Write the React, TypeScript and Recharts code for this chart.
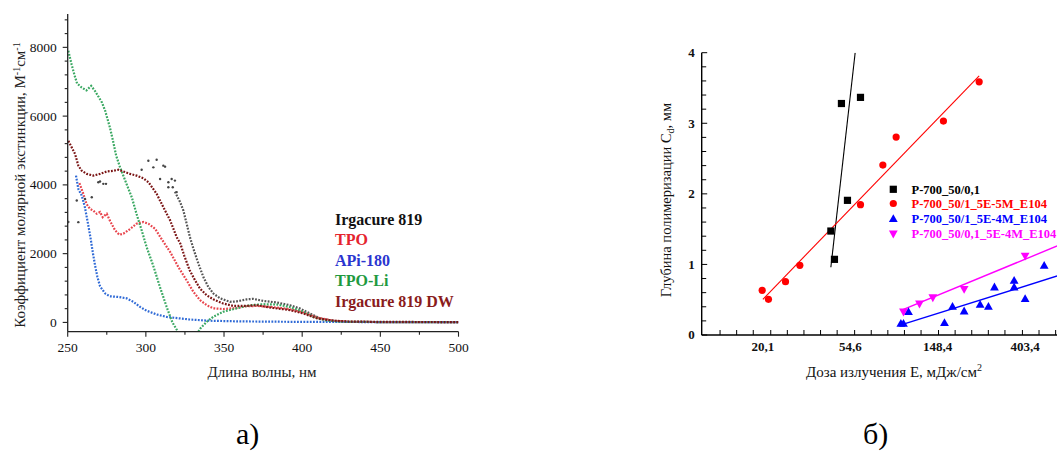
import React from 'react';
import { ComposedChart, Line, Scatter, XAxis, YAxis } from 'recharts';

type P = { x: number; y: number | null };
const pts = (a: (number | null)[][]): P[] => a.map(([x, y]) => ({ x: x as number, y }));

// ---------------- Panel а): molar extinction spectra ----------------
const irgacure819 = pts([
  [318.6, 3800], [321.9, 3500], [324, 3255], [326.1, 2870], [328.2, 2480], [330.4, 2145],
  [333.6, 1710], [336.8, 1320], [340, 1030], [343.2, 840], [347.5, 700], [353.8, 600],
  [358.1, 610], [364.5, 670], [368.7, 685], [375.1, 625], [383.7, 580], [392.2, 500],
  [398.6, 405], [405, 260], [411.4, 115], [420, 45], [430, 20], [450, 10], [500, 8],
]);
const irgacure819Noise = pts([
  [250.4, 2920], [255.8, 3545], [261.1, 3590], [265.4, 3640], [269.6, 4075], [270.7, 4100],
  [272.8, 4030], [274.5, 4030], [297.3, 4440], [301.6, 4700], [304.8, 4510], [306.9, 4730],
  [309.1, 4170], [311.2, 4560], [312.3, 4530], [314.4, 3930], [314.4, 4075], [316.5, 4170],
  [317.2, 3930], [318.6, 4125], [319.7, 3790], [256.8, 2916],
]);
const tpo = pts([
  [257.5, 4050], [260, 3740], [262, 3450], [264.3, 3300], [266.4, 3250], [268.6, 3160],
  [270.7, 3210], [272.4, 3060], [275, 3160], [277, 2960], [280.3, 2680], [283, 2550],
  [285.6, 2580], [290, 2720], [294, 2870], [298.4, 2920], [301.6, 2870], [306, 2720],
  [310, 2430], [315.5, 2050], [320.8, 1610], [326, 1230], [330.4, 890], [334.6, 650],
  [339, 500], [343, 410], [349.6, 390], [358, 420], [364.5, 470], [371, 480], [380, 450],
  [390, 400], [400, 300], [410, 140], [420, 50], [430, 20], [450, 10], [500, 5],
]);
const api180 = pts([
  [255.3, 4270], [256.8, 3880], [259, 3690], [261, 3350], [263.2, 2820], [264.7, 2430],
  [266, 2050], [267.5, 1660], [269, 1320], [270.7, 1050], [274, 840], [277, 760],
  [282.4, 740], [287.7, 700], [292, 600], [296.3, 450], [300.5, 340], [307, 230],
  [313.3, 160], [322, 115], [328, 85], [340, 50], [360, 30], [400, 15], [450, 10], [500, 8],
]);
const tpoLi = pts([
  [250.4, 7900], [252.5, 7500], [254.5, 7170], [256, 6950], [259, 6830], [262, 6750],
  [265, 6880], [267.5, 6730], [272, 6390], [274, 6150], [277, 5670], [279, 5280],
  [281, 4850], [283.5, 4510], [287, 4100], [291, 3640], [294, 3160], [297.3, 2680],
  [300.5, 2190], [305, 1610], [309, 1030], [313.3, 450], [317, 0], [320.5, -270],
  [327, null],
  [333.6, -270], [335, -170], [339, 20], [343, 160], [349.5, 310], [358, 410],
  [366.5, 500], [375, 530], [384, 520], [392, 450], [400.7, 310], [407, 160], [415, 60],
  [425, 20], [450, 10], [500, 5],
]);
const irgacure819DW = pts([
  [250.4, 5280], [252.6, 5090], [254.7, 4900], [256.8, 4560], [259, 4410], [262.2, 4320],
  [266.4, 4270], [270.7, 4320], [275, 4390], [279.2, 4410], [282.4, 4440], [285.6, 4390],
  [289.9, 4320], [294.1, 4270], [298.4, 4190], [301.6, 4080], [304.8, 3880], [306.9, 3740],
  [311.2, 3350], [315.5, 2970], [319.7, 2480], [322, 2300], [324.5, 1950], [328, 1520],
  [331.4, 1230], [334.6, 985], [338.9, 790], [343.2, 670], [349.5, 550], [355.9, 480],
  [364.5, 480], [370.9, 500], [381.5, 420], [392.2, 360], [400.7, 260], [409.3, 120],
  [420, 50], [430, 25], [450, 15], [500, 10],
]);

const spectraNames = ['Irgacure 819', 'TPO', 'APi-180', 'TPO-Li', 'Irgacure 819 DW'];
const spectraLegendColors = ['#111111', '#e5232e', '#2a35d0', '#1f9a3f', '#8a1c1c'];
const spectraLineColors = ['#555555', '#e8454d', '#2f6ad6', '#3aa862', '#7a1414'];

const wlMajorTicks = [250, 300, 350, 400, 450, 500];
const wlMinorTicks = [275, 325, 375, 425, 475];
const epsMajorTicks = [0, 2000, 4000, 6000, 8000];
const epsMinorTicks = [400, 800, 1200, 1600, 2400, 2800, 3200, 3600, 4400, 4800, 5200, 5600, 6400, 6800, 7200, 7600, 8400, 8800];

// ---------------- Panel б): cure depth vs dose (x = ln E) ----------------
const doseLabelValues = [3, 4, 5, 6];
const doseLabels = ['20,1', '54,6', '148,4', '403,4'];
const doseMinorTicks = [2.51, 2.70, 2.89, 3.09, 3.28, 3.47, 3.66, 3.85, 4.05, 4.24, 4.43, 4.62, 4.81, 5.01, 5.20, 5.39, 5.58, 5.77, 5.97, 6.16, 6.35];
const depthMajorTicks = [0, 1, 2, 3, 4];
const depthMinorTicks = [0.2, 0.4, 0.6, 0.8, 1.2, 1.4, 1.6, 1.8, 2.2, 2.4, 2.6, 2.8, 3.2, 3.4, 3.6, 3.8];

const p700_01 = pts([[3.778, 1.473], [3.819, 1.072], [3.899, 3.28], [3.968, 1.908], [4.117, 3.367]]);
const p700_01Fit = pts([[3.778, 0.96], [4.056, 4.0]]);
const p700_1_5E5 = pts([
  [2.992, 0.633], [3.064, 0.506], [3.259, 0.755], [3.423, 0.987], [4.117, 1.846],
  [4.373, 2.408], [4.525, 2.805], [5.066, 3.031], [5.475, 3.588],
]);
const p700_1_5E5Fit = pts([[3.0, 0.506], [5.475, 3.673]]);
const p700_1_5E4 = pts([
  [4.579, 0.165], [4.609, 0.165], [4.666, 0.331], [5.078, 0.175], [5.170, 0.406],
  [5.303, 0.340], [5.486, 0.434], [5.581, 0.406], [5.650, 0.680], [5.875, 0.775],
  [5.875, 0.680], [6.001, 0.514], [6.219, 0.987],
]);
const p700_1_5E4Fit = pts([[4.59, 0.146], [6.367, 0.836]]);
const p700_01_5E4 = pts([[4.609, 0.326], [4.792, 0.439], [4.945, 0.528], [5.303, 0.647], [6.001, 1.119]]);
const p700_01_5E4Fit = pts([[4.609, 0.364], [6.367, 1.261]]);

const doseNames = ['P-700_50/0,1', 'P-700_50/1_5E-5M_E104', 'P-700_50/1_5E-4M_E104', 'P-700_50/0,1_5E-4M_E104'];
const doseColors = ['#000000', '#ff0000', '#0000ff', '#ff00ff'];

const SERIF = '"Liberation Serif", "Times New Roman", Times, serif';

// ---------------- helpers ----------------
type TickOpts = {
  side: 'bottom' | 'left' | 'top' | 'right';
  majors: number[];
  labelOf?: (v: number) => string | null;
  majorLen: number;
  minorLen: number;
  outward: boolean;
  labelGap: number;
  fontSize: number;
  fontWeight?: number | string;
  lineOnLabels: boolean;
  color: string;
  width: number;
};

const makeTick = (o: TickOpts) => (p: any) => {
  const v = p.payload.value;
  const isMajor = o.majors.some((m) => Math.abs(m - v) < 1e-9);
  const label = o.labelOf ? o.labelOf(v) : null;
  const len = isMajor ? o.majorLen : o.minorLen;
  const s = o.outward ? 1 : -1;
  const { x, y } = p;
  const drawLine = label == null || o.lineOnLabels;
  let line: any = null;
  let text: any = null;
  const ls = { stroke: o.color, strokeWidth: o.width };
  if (o.side === 'bottom') {
    if (drawLine) line = <line x1={x} y1={y} x2={x} y2={y + s * len} {...ls} />;
    if (label != null)
      text = (
        <text x={x} y={y + o.labelGap} textAnchor="middle" fontFamily={SERIF} fontSize={o.fontSize} fontWeight={o.fontWeight} fill="#111">
          {label}
        </text>
      );
  } else if (o.side === 'top') {
    if (drawLine) line = <line x1={x} y1={y} x2={x} y2={y - s * len} {...ls} />;
  } else if (o.side === 'left') {
    if (drawLine) line = <line x1={x} y1={y} x2={x - s * len} y2={y} {...ls} />;
    if (label != null)
      text = (
        <text x={x - o.labelGap} y={y} dy="0.34em" textAnchor="end" fontFamily={SERIF} fontSize={o.fontSize} fontWeight={o.fontWeight} fill="#111">
          {label}
        </text>
      );
  } else {
    if (drawLine) line = <line x1={x} y1={y} x2={x + s * len} y2={y} {...ls} />;
  }
  return (
    <g>
      {line}
      {text}
    </g>
  );
};

const Square = (p: any) => <rect x={p.cx - 3.6} y={p.cy - 3.6} width={7.2} height={7.2} fill={p.fill} />;
const Dot = (p: any) => <circle cx={p.cx} cy={p.cy} r={3.6} fill={p.fill} />;
const TriUp = (p: any) => (
  <polygon points={`${p.cx},${p.cy - 4.4} ${p.cx + 4.4},${p.cy + 3.4} ${p.cx - 4.4},${p.cy + 3.4}`} fill={p.fill} />
);
const TriDown = (p: any) => (
  <polygon points={`${p.cx},${p.cy + 4.4} ${p.cx + 4.4},${p.cy - 3.4} ${p.cx - 4.4},${p.cy - 3.4}`} fill={p.fill} />
);
const Speck = (p: any) => <circle cx={p.cx} cy={p.cy} r={1.2} fill={p.fill} />;

const dotted = { strokeDasharray: '1.8 1.4', strokeWidth: 2.2 };

function SpectraChart() {
  const axisColor = '#222';
  const spectra = [irgacure819, tpo, api180, tpoLi, irgacure819DW];
  return (
    <ComposedChart width={480} height={400} margin={{ top: 14, right: 21.5, left: 0, bottom: 0 }}>
      <XAxis
        dataKey="x"
        type="number"
        domain={[250, 500]}
        allowDataOverflow
        ticks={[...wlMajorTicks, ...wlMinorTicks].sort((a, b) => a - b)}
        interval={0}
        height={68.3}
        tickSize={0}
        tickMargin={0}
        tickLine={false}
        axisLine={{ stroke: axisColor, strokeWidth: 1.3 }}
        tick={makeTick({
          side: 'bottom', majors: wlMajorTicks,
          labelOf: (v) => (wlMajorTicks.includes(v) ? String(v) : null),
          majorLen: 5, minorLen: 3, outward: true, labelGap: 20, fontSize: 13.5,
          lineOnLabels: true, color: axisColor, width: 1.1,
        })}
      />
      <YAxis
        dataKey="y"
        type="number"
        domain={[-270, 8970]}
        allowDataOverflow
        ticks={[...epsMajorTicks, ...epsMinorTicks].sort((a, b) => a - b)}
        interval={0}
        width={67.7}
        tickSize={0}
        tickMargin={0}
        tickLine={false}
        axisLine={{ stroke: axisColor, strokeWidth: 1.3 }}
        tick={makeTick({
          side: 'left', majors: epsMajorTicks,
          labelOf: (v) => (epsMajorTicks.includes(v) ? String(v) : null),
          majorLen: 5, minorLen: 3, outward: true, labelGap: 11, fontSize: 13.5,
          lineOnLabels: true, color: axisColor, width: 1.1,
        })}
      />
      <Scatter data={irgacure819Noise} dataKey="y" fill="#444" shape={Speck} isAnimationActive={false} />
      {spectra.map((d, i) => (
        <Line
          key={spectraNames[i]}
          data={d}
          dataKey="y"
          stroke={spectraLineColors[i]}
          {...dotted}
          dot={false}
          activeDot={false}
          connectNulls={false}
          isAnimationActive={false}
        />
      ))}
    </ComposedChart>
  );
}

function DoseChart() {
  const ax = '#000';
  const allX = [...doseLabelValues, ...doseMinorTicks].sort((a, b) => a - b);
  const allY = [...depthMajorTicks, ...depthMinorTicks].sort((a, b) => a - b);
  const series = [p700_01, p700_1_5E5, p700_1_5E4, p700_01_5E4];
  const fits = [p700_01Fit, p700_1_5E5Fit, p700_1_5E4Fit, p700_01_5E4Fit];
  const shapes = [Square, Dot, TriUp, TriDown];
  const fitWidths = [1.1, 1.1, 1.4, 1.4];
  return (
    <ComposedChart width={470} height={400} margin={{ top: 52.7, right: 10, left: 0, bottom: 0 }}>
      <XAxis
        xAxisId="b"
        dataKey="x"
        type="number"
        domain={[2.3, 6.4]}
        allowDataOverflow
        ticks={allX}
        interval={0}
        height={65}
        tickSize={0}
        tickMargin={0}
        tickLine={false}
        axisLine={{ stroke: ax, strokeWidth: 1.4 }}
        tick={makeTick({
          side: 'bottom', majors: [],
          labelOf: (v) => {
            const i = doseLabelValues.indexOf(v);
            return i >= 0 ? doseLabels[i] : null;
          },
          majorLen: 5, minorLen: 5, outward: false, labelGap: 16, fontSize: 13, fontWeight: 'bold',
          lineOnLabels: false, color: ax, width: 1,
        })}
      />
      <XAxis
        xAxisId="t"
        orientation="top"
        dataKey="x"
        type="number"
        domain={[2.3, 6.4]}
        allowDataOverflow
        ticks={doseMinorTicks}
        interval={0}
        height={0}
        tickSize={0}
        tickMargin={0}
        tickLine={false}
        axisLine={{ stroke: ax, strokeWidth: 1.4 }}
        tick={makeTick({
          side: 'top', majors: [], majorLen: 5, minorLen: 5, outward: false, labelGap: 0,
          fontSize: 12, lineOnLabels: false, color: ax, width: 1,
        })}
      />
      <YAxis
        yAxisId="l"
        dataKey="y"
        type="number"
        domain={[0, 4]}
        allowDataOverflow
        ticks={allY}
        interval={0}
        width={101.7}
        tickSize={0}
        tickMargin={0}
        tickLine={false}
        axisLine={{ stroke: ax, strokeWidth: 1.4 }}
        tick={makeTick({
          side: 'left', majors: depthMajorTicks,
          labelOf: (v) => (depthMajorTicks.includes(v) ? String(v) : null),
          majorLen: 5.5, minorLen: 4.5, outward: false, labelGap: 7, fontSize: 13, fontWeight: 'bold',
          lineOnLabels: true, color: ax, width: 1,
        })}
      />
      <YAxis
        yAxisId="r"
        orientation="right"
        dataKey="y"
        type="number"
        domain={[0, 4]}
        allowDataOverflow
        ticks={allY}
        interval={0}
        width={0}
        tickSize={0}
        tickMargin={0}
        tickLine={false}
        axisLine={{ stroke: ax, strokeWidth: 1.4 }}
        tick={makeTick({
          side: 'right', majors: depthMajorTicks, majorLen: 5.5, minorLen: 4.5, outward: false,
          labelGap: 0, fontSize: 12, lineOnLabels: false, color: ax, width: 1,
        })}
      />
      {fits.map((d, i) => (
        <Line
          key={'fit' + i}
          xAxisId="b"
          yAxisId="l"
          data={d}
          dataKey="y"
          stroke={doseColors[i]}
          strokeWidth={fitWidths[i]}
          dot={false}
          activeDot={false}
          isAnimationActive={false}
        />
      ))}
      {series.map((d, i) => (
        <Scatter
          key={doseNames[i]}
          xAxisId="b"
          yAxisId="l"
          data={d}
          dataKey="y"
          fill={doseColors[i]}
          shape={shapes[i]}
          isAnimationActive={false}
        />
      ))}
    </ComposedChart>
  );
}

function Overlay() {
  const legendShapes = [
    (x: number, y: number, c: string) => <rect x={x - 3.6} y={y - 3.6} width={7.2} height={7.2} fill={c} />,
    (x: number, y: number, c: string) => <circle cx={x} cy={y} r={3.6} fill={c} />,
    (x: number, y: number, c: string) => <polygon points={`${x},${y - 4.4} ${x + 4.4},${y + 3.4} ${x - 4.4},${y + 3.4}`} fill={c} />,
    (x: number, y: number, c: string) => <polygon points={`${x},${y + 4.4} ${x + 4.4},${y - 3.4} ${x - 4.4},${y - 3.4}`} fill={c} />,
  ];
  const rowsB = [189.3, 203.5, 218.7, 234];
  return (
    <svg width={1057} height={451} style={{ position: 'absolute', left: 0, top: 0, pointerEvents: 'none' }}>
      {/* Panel а) titles */}
      <text transform="translate(24.5,185) rotate(-90)" textAnchor="middle" fontFamily={SERIF} fontSize={15} fill="#222">
        Коэффициент молярной экстинкции, М<tspan dy={-5} fontSize={10}>-1</tspan>
        <tspan dy={5}>см</tspan>
        <tspan dy={-5} fontSize={10}>-1</tspan>
      </text>
      <text x={262} y={377} textAnchor="middle" fontFamily={SERIF} fontSize={15} fill="#222">
        Длина волны, нм
      </text>
      {spectraNames.map((n, i) => (
        <text key={n} x={335} y={225 + i * 20.4} fontFamily={SERIF} fontSize={16} fontWeight="bold" fill={spectraLegendColors[i]}>
          {n}
        </text>
      ))}

      {/* Panel б) titles */}
      <text transform="translate(671,200) rotate(-90)" textAnchor="middle" fontFamily={SERIF} fontSize={14.5} fill="#111">
        Глубина полимеризации C<tspan dy={3} fontSize={10}>d</tspan>
        <tspan dy={-3}>, мм</tspan>
      </text>
      <text x={894} y={376.5} textAnchor="middle" fontFamily={SERIF} fontSize={15} fill="#111">
        Доза излучения E, мДж/см<tspan dy={-6} fontSize={10}>2</tspan>
      </text>
      {doseNames.map((n, i) => (
        <g key={n}>
          {legendShapes[i](893.3, rowsB[i], doseColors[i])}
          <text x={911.5} y={rowsB[i]} dy="0.34em" fontFamily={SERIF} fontSize={12.5} fontWeight="bold" fill={doseColors[i]}>
            {n}
          </text>
        </g>
      ))}

      {/* captions */}
      <text x={236} y={444} fontFamily={SERIF} fontSize={30} fill="#000">а)</text>
      <text x={863} y={444} fontFamily={SERIF} fontSize={30} fill="#000">б)</text>
    </svg>
  );
}

export default function App() {
  return (
    <div style={{ position: 'absolute', left: 0, top: 0, width: 1057, height: 451, overflow: 'hidden', background: '#fff' }}>
      <div style={{ position: 'absolute', left: 0, top: 0 }}>
        <SpectraChart />
      </div>
      <div style={{ position: 'absolute', left: 600, top: 0 }}>
        <DoseChart />
      </div>
      <Overlay />
    </div>
  );
}
